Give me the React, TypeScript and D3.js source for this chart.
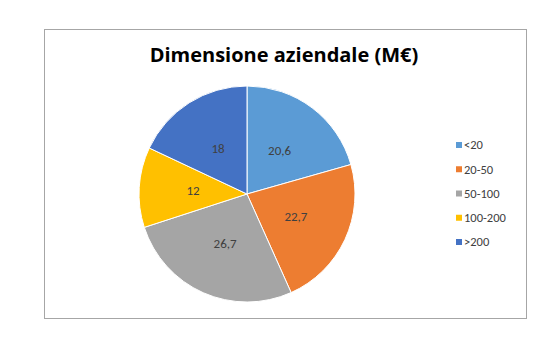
import React from "react";
import * as d3 from "d3";

const categories = ["<20", "20-50", "50-100", "100-200", ">200"];
const values = [20.6, 22.7, 26.7, 12, 18];
const valueLabels = ["20,6", "22,7", "26,7", "12", "18"];
const colors = ["#5B9BD5", "#ED7D31", "#A5A5A5", "#FFC000", "#4472C4"];
const title = "Dimensione aziendale (M€)";

export default function App() {
  const W = 550, H = 349;
  const cx = 247, cy = 194, r = 108;
  const pie = d3.pie<number>().sort(null).value((d) => d)(values);
  const arc = d3.arc<d3.PieArcDatum<number>>().innerRadius(0).outerRadius(r);
  const labelArc = d3.arc<d3.PieArcDatum<number>>().innerRadius(r * 0.5).outerRadius(r * 0.5);
  const legendY = d3.scalePoint<string>().domain(categories).range([145, 242]);
  const font = "Carlito, Lato, 'Open Sans', sans-serif";
  return (
    <svg width={W} height={H} style={{ position: "absolute", left: 0, top: 0 }}>
      <rect x={0} y={0} width={W} height={H} fill="#fff" />
      <rect x={44.5} y={29.5} width={482} height={289} fill="#fff" stroke="#A6A6A6" strokeWidth={1} />
      <text x={284} y={62} textAnchor="middle" fontFamily="'Open Sans', sans-serif" fontWeight="bold" fontSize={20} fill="#000">
        {title}
      </text>
      <g transform={`translate(${cx},${cy})`}>
        {pie.map((d, i) => (
          <path key={i} d={arc(d) || ""} fill={colors[i]} stroke="#fff" strokeWidth={1} />
        ))}
        {pie.map((d, i) => {
          const [x, y] = labelArc.centroid(d);
          return (
            <text key={i} x={x} y={y} dy="0.35em" textAnchor="middle" fontFamily={font} fontSize={13} fill="#404040">
              {valueLabels[i]}
            </text>
          );
        })}
      </g>
      {categories.map((c, i) => (
        <g key={c} transform={`translate(456,${legendY(c)})`}>
          <rect x={0} y={-3} width={6} height={6} fill={colors[i]} />
          <text x={8} y={0} dy="0.35em" fontFamily={font} fontSize={12.5} fill="#404040">
            {c}
          </text>
        </g>
      ))}
    </svg>
  );
}
